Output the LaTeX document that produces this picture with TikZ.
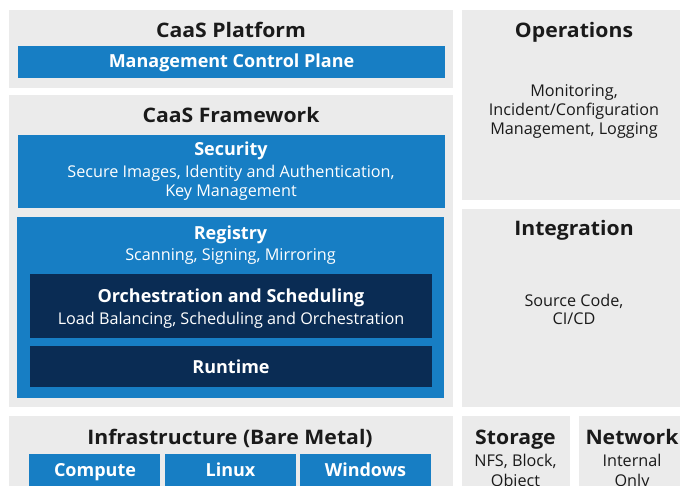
\documentclass[tikz,border=0pt]{standalone}
\usepackage{fontspec}
\setmainfont{Open Sans}
\newfontfamily\ttlfont[FakeStretch=1.06]{Open Sans}
\definecolor{panelgray}{HTML}{EBEBEB}
\definecolor{ibblue}{HTML}{177EC4}
\definecolor{ibnavy}{HTML}{0A2C54}
\definecolor{ibtext}{HTML}{1A1A1A}
\begin{document}
\begin{tikzpicture}[x=1pt,y=-1pt,
  box/.style={anchor=north west,inner sep=0pt,outer sep=0pt,draw=none},
  panel/.style={box,fill=panelgray},
  bluebox/.style={box,fill=ibblue},
  navybox/.style={box,fill=ibnavy},
  ttl/.style={font=\ttlfont\fontsize{20}{22}\selectfont\bfseries,text=ibtext,inner sep=0pt,anchor=base},
  wttl/.style={font=\fontsize{18}{20}\selectfont\bfseries,text=white,inner sep=0pt,anchor=base},
  wsub/.style={font=\fontsize{16.2}{19}\selectfont,text=white,inner sep=0pt,anchor=base},
  dsub/.style={font=\fontsize{16.2}{19}\selectfont,text=ibtext,inner sep=0pt,anchor=base}]
\useasboundingbox (0,0) rectangle (680,486);
\clip (0,0) rectangle (680,486);
\fill[white] (0,0) rectangle (680,486);
% CaaS Platform
\node[panel,minimum width=444pt,minimum height=78pt] (plat) at (9,10) {};
\node[ttl] (platt) at (231,37.3) {CaaS Platform};
\node[bluebox,minimum width=427pt,minimum height=32pt] (mcp) at (18,46) {};
\node[wttl] (mcpt) at (231.5,67.7) {Management Control Plane};
% CaaS Framework
\node[panel,minimum width=444pt,minimum height=312pt] (fw) at (9,95) {};
\node[ttl] (fwt) at (231,122.7) {CaaS Framework};
\node[bluebox,minimum width=427pt,minimum height=73pt] (sec) at (18,135) {};
\node[wttl] (sect) at (231,156) {Security};
\node[wsub] (secs1) at (231,177.3) {Secure Images, Identity and Authentication,};
\node[wsub] (secs2) at (231,196.7) {Key Management};
\node[bluebox,minimum width=427pt,minimum height=181pt] (reg) at (17,217) {};
\node[wttl] (regt) at (230.5,239.3) {Registry};
\node[wsub] (regs) at (230.5,260.5) {Scanning, Signing, Mirroring};
\node[navybox,minimum width=402pt,minimum height=64pt] (orch) at (30,274) {};
\node[wttl] (orcht) at (231,302.5) {Orchestration and Scheduling};
\node[wsub] (orchs) at (231,324) {Load Balancing, Scheduling and Orchestration};
\node[navybox,minimum width=402pt,minimum height=41pt] (rt) at (30,346) {};
\node[wttl] (rtt) at (231,373) {Runtime};
% Operations
\node[panel,minimum width=219pt,minimum height=190pt] (ops) at (462,10) {};
\node[ttl] (opst) at (574,37.3) {Operations};
\node[dsub] (opss1) at (574,96.5) {Monitoring,};
\node[dsub] (opss2) at (574,115.7) {Incident/Configuration};
\node[dsub] (opss3) at (574,135) {Management, Logging};
% Integration
\node[panel,minimum width=219pt,minimum height=198pt] (integ) at (462,209) {};
\node[ttl] (integt) at (574,236) {Integration};
\node[dsub] (integs1) at (574,306.7) {Source Code,};
\node[dsub] (integs2) at (574,325) {CI/CD};
% Infrastructure
\node[panel,minimum width=444pt,minimum height=80pt] (infra) at (9,416) {};
\node[ttl] (infrat) at (230,444) {Infrastructure (Bare Metal)};
\node[bluebox,minimum width=131pt,minimum height=40pt] (comp) at (29,454) {};
\node[wttl] (compt) at (95,476) {Compute};
\node[bluebox,minimum width=131pt,minimum height=40pt] (lin) at (165,454) {};
\node[wttl] (lint) at (230.5,476) {Linux};
\node[bluebox,minimum width=131pt,minimum height=40pt] (win) at (300,454) {};
\node[wttl] (wint) at (365.5,476) {Windows};
% Storage
\node[panel,minimum width=108pt,minimum height=80pt] (stor) at (462,416) {};
\node[ttl] (stort) at (515.5,444) {Storage};
\node[dsub] (stors1) at (515.5,466.7) {NFS, Block,};
\node[dsub] (stors2) at (515.5,486.5) {Object};
% Network
\node[panel,minimum width=101pt,minimum height=80pt] (net) at (579,416) {};
\node[ttl] (nett) at (632,444) {Network};
\node[dsub] (nets1) at (632,466.7) {Internal};
\node[dsub] (nets2) at (632,486.5) {Only};
\end{tikzpicture}
\end{document}
